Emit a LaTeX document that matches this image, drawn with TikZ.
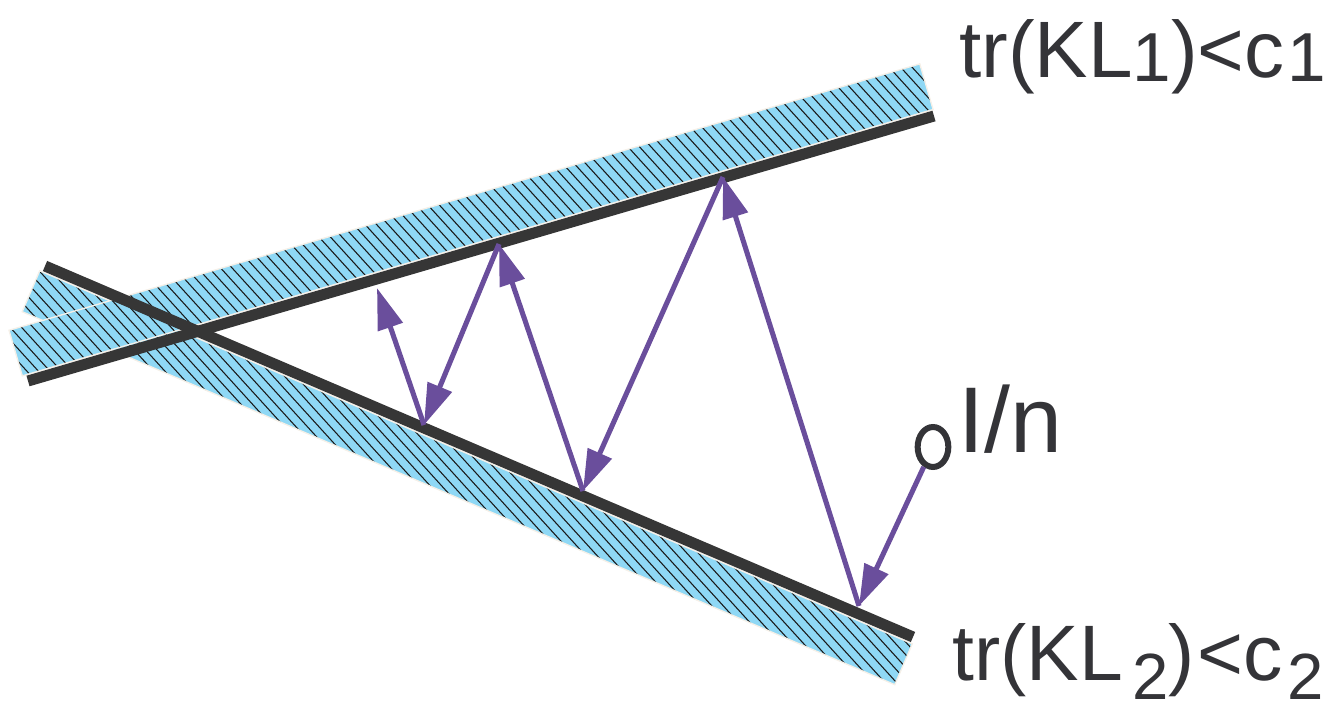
\documentclass[tikz,border=0pt]{standalone}
\usepackage{fontspec}
\setmainfont{Liberation Sans}
\usetikzlibrary{arrows.meta,shapes.geometric}
\definecolor{bandblue}{RGB}{143,216,245}
\definecolor{darkline}{RGB}{54,54,54}
\definecolor{arrowpurple}{RGB}{106,78,156}
\definecolor{textgray}{RGB}{52,52,56}
\definecolor{edgewhite}{RGB}{245,240,232}
\begin{document}
\begin{tikzpicture}[x=0.75pt,y=-0.75pt,
  band/.style={fill=bandblue},
  bandedge/.style={draw=edgewhite,line width=1pt},
  hatchline/.style={draw=black!90,line width=0.8pt},
  wall/.style={draw=darkline,line width=8.25pt,line cap=butt},
  arr/.style={draw=arrowpurple,line width=3.8pt,-{Triangle[length=31pt,width=19pt]}},
  lbl/.style={text=textgray,inner sep=0pt,anchor=base west}]
\useasboundingbox (0,0) rectangle (1340,712);
% wall end points
\coordinate (a1) at (28,381);
\coordinate (a2) at (934,116);
\coordinate (b1) at (45,266);
\coordinate (b2) at (913,637);
% lower band
\begin{scope}
  \path[clip] (39.7,270.8) -- (22.2,311.7) -- (894.8,684.7) -- (912.3,643.8) -- cycle;
  \fill[band] (0,0) rectangle (1000,712);
  \foreach \k in {-40,...,85} \draw[hatchline] (\k*11.5,0) -- ++(700,770);
\end{scope}
\draw[bandedge] (39.7,270.8) -- (22.2,311.7) -- (894.8,684.7) -- (912.3,643.8) -- cycle;
% upper band
\begin{scope}
  \path[clip] (22.3,375.9) -- (9.0,330.3) -- (919.8,63.9) -- (933.1,109.5) -- cycle;
  \fill[band] (0,0) rectangle (1000,712);
  \foreach \k in {-40,...,85} \draw[hatchline] (\k*11.5,0) -- ++(700,770);
\end{scope}
\draw[bandedge] (22.3,375.9) -- (9.0,330.3) -- (919.8,63.9) -- (933.1,109.5) -- cycle;
% walls
\draw[wall] (b1) -- (b2);
\draw[wall] (a1) -- (a2);
% bounce points
\node[ellipse,draw=textgray,line width=4.5pt,minimum width=23pt,minimum height=30pt,inner sep=0pt] (c) at (933,447) {};
\coordinate (p1) at (859,606);
\coordinate (p2) at (723,177);
\coordinate (p3) at (583,491);
\coordinate (p4) at (499,244);
\coordinate (p5) at (424,425);
\coordinate (p6) at (377,288);
\draw[arr] (c) -- (p1);
\draw[arr] (p1) -- (p2);
\draw[arr] (p2) -- (p3);
\draw[arr] (p3) -- (p4);
\draw[arr] (p4) -- (p5);
\draw[arr] (p5) -- (p6);
% labels
\node[lbl,font=\fontsize{60}{72}\selectfont] (t1) at (959,78) {tr(KL\raisebox{-3pt}{\fontsize{52}{52}\selectfont 1})<c\kern2pt\raisebox{-3pt}{\fontsize{52}{52}\selectfont 1}};
\node[lbl,font=\fontsize{59}{70}\selectfont] (t2) at (952,681) {tr(KL\kern7pt\raisebox{-14pt}{\fontsize{49}{49}\selectfont 2})\kern2pt<c\kern4pt\raisebox{-14pt}{\fontsize{49}{49}\selectfont 2}};
\node[lbl,font=\fontsize{70}{80}\selectfont] (t3) at (958,453) {I/n};
\end{tikzpicture}
\end{document}
